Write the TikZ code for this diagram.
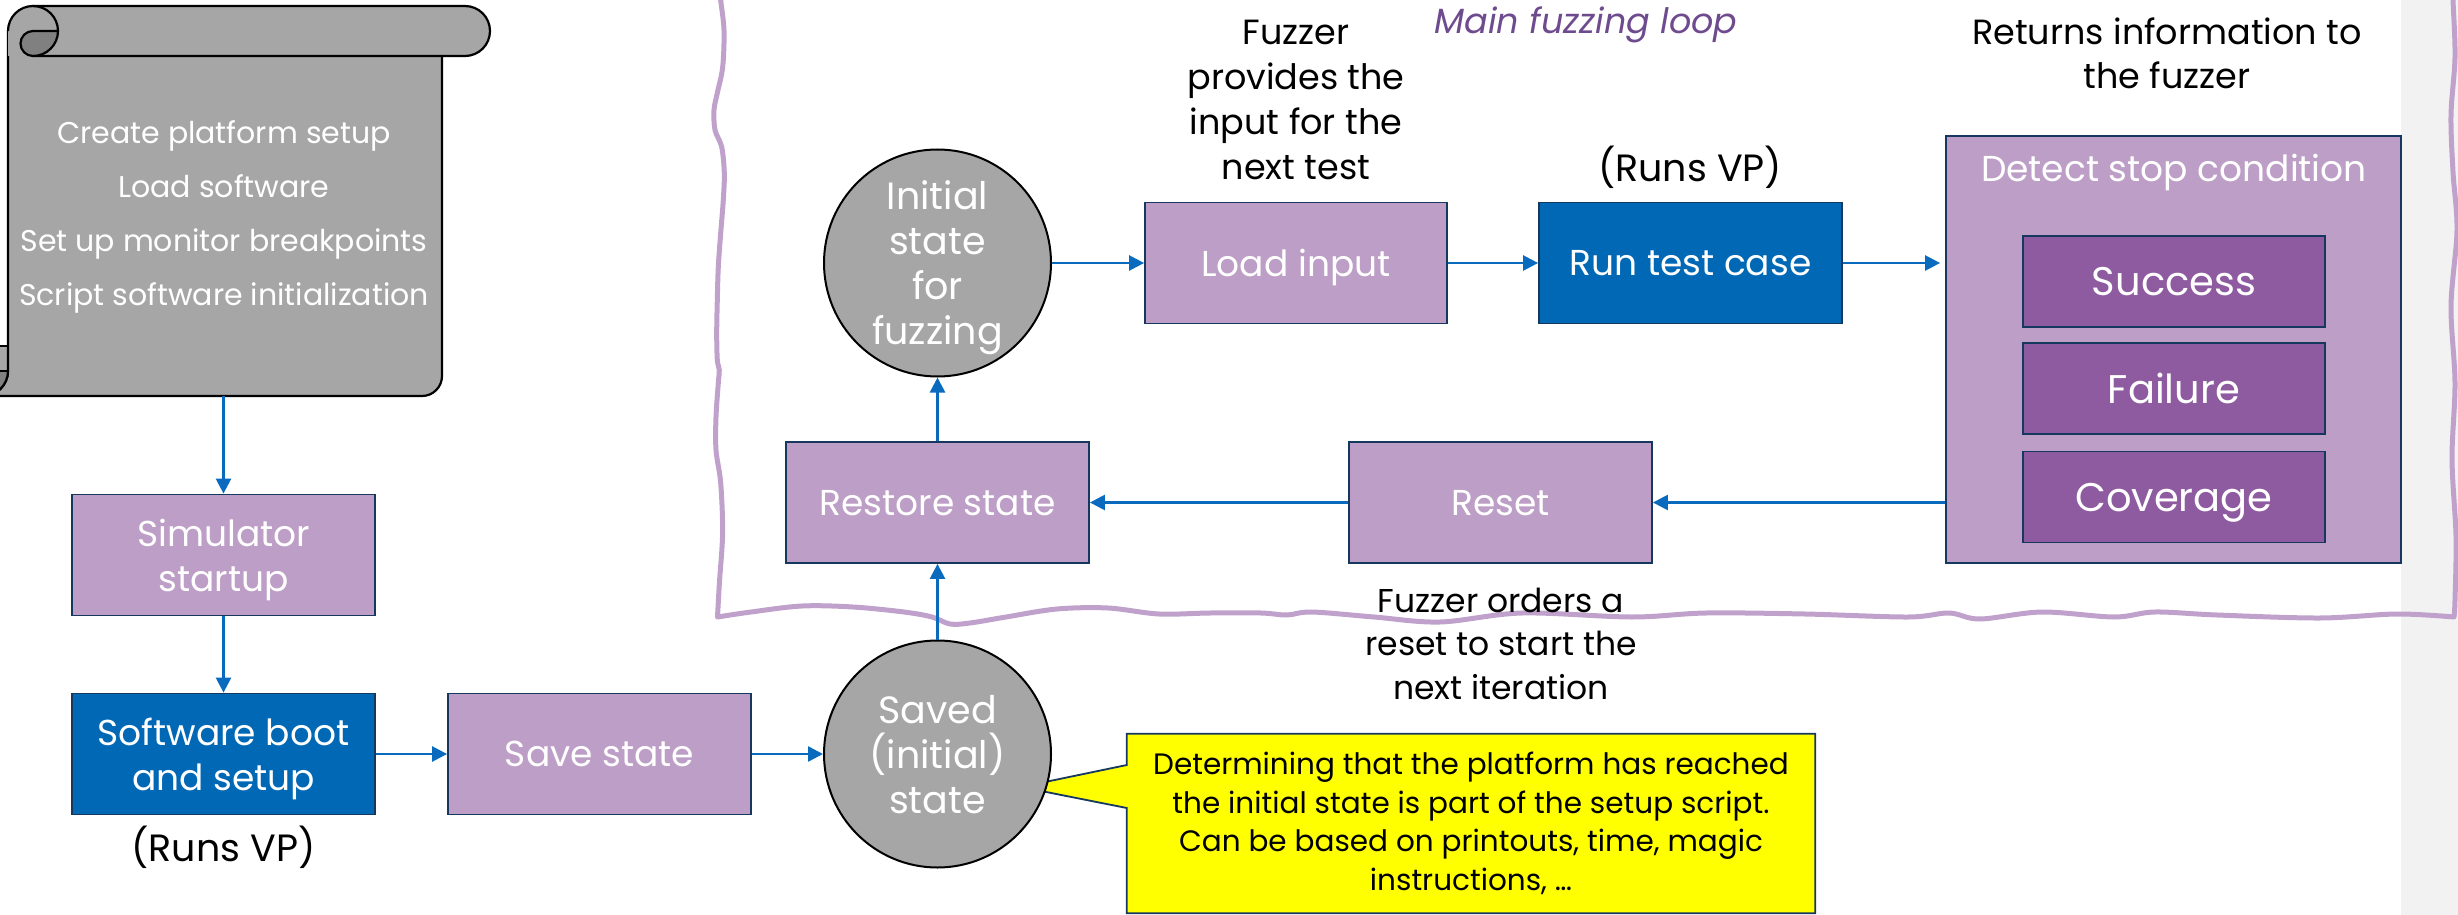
\documentclass[tikz,border=0pt]{standalone}
\usepackage{fontspec}
\setmainfont{Poppins}
\usetikzlibrary{arrows.meta,backgrounds,calc}

\definecolor{lilac}{HTML}{BD9EC6}
\definecolor{plum}{HTML}{8E5BA0}
\definecolor{ink}{HTML}{16375E}
\definecolor{vpblue}{HTML}{0068B5}
\definecolor{wire}{HTML}{0A6BBE}
\definecolor{stone}{HTML}{A6A6A6}
\definecolor{stonedark}{HTML}{808080}
\definecolor{loopline}{HTML}{BFA1CB}
\definecolor{looptext}{HTML}{6E4B8E}
\definecolor{strip}{HTML}{F2F2F2}
\definecolor{notefill}{HTML}{FFFF00}

\begin{document}
\begin{tikzpicture}[x=1pt,y=-1pt,
  box/.style={draw=ink, line width=1.8pt, minimum width=303pt, minimum height=121pt,
    inner sep=0pt, align=center, text=white, text depth=0pt,
    font=\fontsize{36}{45}\selectfont},
  lightbox/.style={box, fill=lilac},
  bluebox/.style={box, fill=vpblue},
  statecircle/.style={circle, draw=black, line width=2pt, fill=stone, minimum size=227pt,
    inner sep=0pt, align=center, text=white, text depth=0pt,
    font=\fontsize{38}{45}\selectfont},
  outcome/.style={box, fill=plum, minimum width=302pt, minimum height=91pt,
    font=\fontsize{40}{46}\selectfont},
  remark/.style={align=center, text=black, inner sep=0pt, font=\fontsize{35}{45}\selectfont},
  flow/.style={draw=wire, line width=2.5pt, -{Triangle[length=15pt,width=15pt]}},
  scrollline/.style={draw=black, line width=2.2pt, line join=round},
]
\useasboundingbox (0,0) rectangle (2458,915);

% ---------- background: side strip and the hand-drawn loop frame ----------
\begin{scope}[on background layer]
  \fill[strip] (2401,0) rectangle (2458,915);
  \draw[loopline, line width=5pt, line join=round, line cap=round]
    plot[smooth, tension=0.55] coordinates {
      (720.7,-10) (720.7,0) (724,30) (722.7,67) (717.3,93) (714,110) (715,130)
      (721.7,147) (724.3,173) (723.3,200) (720.7,233) (718.3,267) (717.3,300)
      (716.7,333) (717.3,360) (719.3,370) (718.3,383) (716,417) (716,450)
      (720.7,483) (722.6,533) (719.4,583) (717.5,617)}
    -- plot[smooth, tension=0.55] coordinates {
      (717.5,617) (751,612) (802,606) (853,607) (904,612) (932,617) (950,624)
      (970,623) (1006,617) (1057,609) (1108,608) (1159,614) (1210,613) (1261,613)
      (1287,615) (1312,612) (1374,617) (1440,622) (1522,613) (1632,617) (1706,613)
      (1805,614) (1908,617) (1949,613) (1980,619) (2042,612) (2114,617) (2155,612)
      (2217,615) (2320,618) (2397,614) (2454,617)}
    -- plot[smooth, tension=0.55] coordinates {
      (2454,617) (2455,600) (2456,536) (2452,459) (2455,383) (2451,306)
      (2457,230) (2453,172) (2451,115) (2455,57) (2453,0) (2453,-10)};
\end{scope}

% ---------- setup script drawn as a scroll ----------
% body of the sheet
\fill[stone] (-50,346) rectangle (8,396);
\fill[stone] (8,31) -- (8,371) arc[start angle=0, end angle=90, radius=25]
  -- (422,396) arc[start angle=90, end angle=0, radius=20]
  -- (442,56) -- (442,31) -- cycle;
\draw[scrollline]
  (8,31) -- (8,371) arc[start angle=0, end angle=90, radius=25]
  -- (422,396) arc[start angle=90, end angle=0, radius=20]
  -- (442,56);
% lower roll (left end)
\fill[stonedark] (-17,371) -- (8,371) arc[start angle=0, end angle=90, radius=25] -- cycle;
\draw[scrollline] (-17,346) -- (8,346);
\draw[scrollline] (-17,371) -- (8,371);
\draw[scrollline] (8,371) arc[start angle=0, end angle=90, radius=25];
% upper roll
\fill[stone]
  (8,31) arc[start angle=180, end angle=270, radius=25]
  -- (465,6) arc[start angle=270, end angle=450, radius=25]
  -- (33,56) -- (8,56) -- cycle;
\draw[scrollline]
  (8,31) arc[start angle=180, end angle=270, radius=25]
  -- (465,6) arc[start angle=270, end angle=450, radius=25]
  -- (33,56);
\fill[stonedark] (33,31) -- (58,31) arc[start angle=0, end angle=90, radius=25]
  arc[start angle=90, end angle=270, radius=12.5] -- cycle;
\draw[scrollline] (33,6) arc[start angle=270, end angle=450, radius=25];
\draw[scrollline] (33,56) arc[start angle=90, end angle=270, radius=12.5] -- (58,31);

\node[minimum width=434pt, minimum height=340pt, inner sep=0pt] (scroll) at (225,226) {};
\node[align=center, text=white, inner sep=0pt, font=\fontsize{30}{54}\selectfont]
  (scripttext) at (224,217)
  {Create platform setup\\Load software\\Set up monitor breakpoints\\Script software initialization};

% ---------- setup phase ----------
\node[lightbox] (sim) at (223.5,555) {Simulator\\startup};
\node[bluebox] (boot) at (223.5,754) {Software boot\\and setup};
\node[remark, font=\fontsize{38}{44}\selectfont] (vpboot) at (223.5,847) {(Runs VP)};
\node[lightbox] (save) at (599.5,754) {Save state};
\node[statecircle] (saved) at (937.5,754) {Saved\\(initial)\\state};

% ---------- main fuzzing loop ----------
\node[font=\itshape\fontsize{35}{40}\selectfont, text=looptext, inner sep=0pt]
  (looplabel) at (1586,25) {Main fuzzing loop};
\node[statecircle] (initial) at (937.5,263) {Initial\\state\\for\\fuzzing};
\node[lightbox, minimum width=302pt] (load) at (1296,263) {Load input};
\node[bluebox] (run) at (1690.5,263) {Run test case};
\node[lightbox] (restore) at (937.5,502.5) {Restore state};
\node[lightbox] (reset) at (1500.5,502.5) {Reset};

\node[remark] (provides) at (1296,100) {Fuzzer\\provides the\\input for the\\next test};
\node[remark, font=\fontsize{38}{44}\selectfont] (vprun) at (1690,167) {(Runs VP)};
\node[remark, font=\fontsize{35}{44}\selectfont] (returns) at (2167,53)
  {Returns information to\\the fuzzer};
\node[remark, font=\fontsize{33}{43.5}\selectfont] (orders) at (1501,643.5)
  {Fuzzer orders a\\reset to start the\\next iteration};

\node[draw=ink, fill=lilac, line width=1.8pt, minimum width=455pt, minimum height=427pt,
  inner sep=0pt] (detect) at (2173.5,349.5) {};
\node[text=white, inner sep=0pt, text depth=0pt, font=\fontsize{36}{44}\selectfont]
  (detectlabel) at (2174,168) {Detect stop condition};
\node[outcome] (success) at (2174,281.5) {Success};
\node[outcome] (failure) at (2174,388.5) {Failure};
\node[outcome] (coverage) at (2174,497) {Coverage};

% ---------- note on the saved state ----------
\node[remark, font=\fontsize{29.5}{38.5}\selectfont, minimum width=688pt, minimum height=179pt]
  (note) at (1471,823.5)
  {Determining that the platform has reached\\the initial state is part of the setup script.\\Can be based on printouts, time, magic\\instructions, …};
\coordinate (tip) at (1021,787);
\begin{scope}[on background layer]
  \filldraw[fill=notefill, draw=ink, line width=1.8pt, line join=miter]
    (note.north west) -- (note.north east) -- (note.south east) -- (note.south west)
    -- ([yshift=15.5pt]note.west) -- (tip) -- ([yshift=58.5pt]note.west) -- cycle;
\end{scope}

% ---------- connectors ----------
\draw[flow] (scroll.south -| sim.north) -- (sim.north);
\draw[flow] (sim) -- (boot);
\draw[flow] (boot) -- (save);
\draw[flow] (save) -- (saved);
\draw[flow] (saved) -- (restore);
\draw[flow] (restore) -- (initial);
\draw[flow] (initial) -- (load);
\draw[flow] (load) -- (run);
\draw[flow, shorten >=5pt] (run) -- (run -| detect.west);
\draw[flow] (detect.west |- reset) -- (reset);
\draw[flow] (reset) -- (restore);
\end{tikzpicture}
\end{document}
